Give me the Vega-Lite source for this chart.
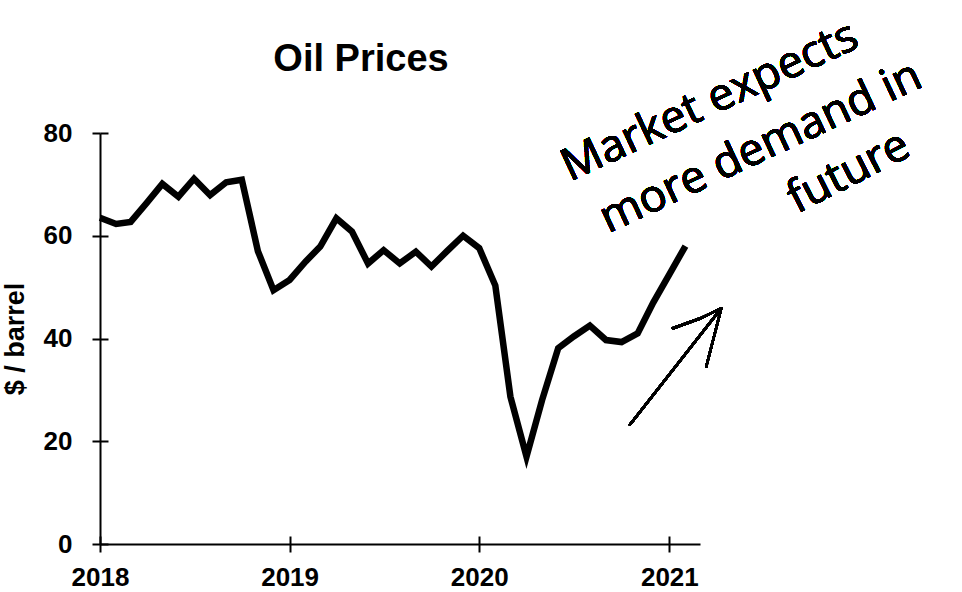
{
  "$schema": "https://vega.github.io/schema/vega-lite/v6.json",
  "autosize": "none",
  "width": 600,
  "height": 411,
  "padding": {"left": 100, "top": 133, "right": 262, "bottom": 48},
  "background": "white",
  "title": {
    "text": "Oil Prices",
    "font": "Liberation Sans",
    "fontSize": 38,
    "fontWeight": "bold",
    "color": "black",
    "anchor": "middle",
    "dx": -39,
    "frame": "group",
    "baseline": "alphabetic",
    "offset": -96
  },
  "config": {
    "view": {"stroke": null},
    "axis": {
      "grid": false,
      "domainColor": "black",
      "domainWidth": 2,
      "tickColor": "black",
      "tickWidth": 2,
      "tickSize": 8,
      "labelFont": "Liberation Sans",
      "labelFontWeight": "bold",
      "labelFontSize": 26,
      "labelColor": "black",
      "labelFlush": false,
      "titleFont": "Liberation Sans",
      "titleFontWeight": "bold",
      "titleFontSize": 27,
      "titleColor": "black"
    }
  },
  "data": {
    "values": [
      {"date": "2018-01-01", "price": 63.5},
      {"date": "2018-02-01", "price": 62.3},
      {"date": "2018-03-01", "price": 62.7},
      {"date": "2018-04-01", "price": 66.4},
      {"date": "2018-05-01", "price": 70.1},
      {"date": "2018-06-01", "price": 67.6},
      {"date": "2018-07-01", "price": 71.1},
      {"date": "2018-08-01", "price": 67.9},
      {"date": "2018-09-01", "price": 70.4},
      {"date": "2018-10-01", "price": 70.9},
      {"date": "2018-11-01", "price": 57.0},
      {"date": "2018-12-01", "price": 49.4},
      {"date": "2019-01-01", "price": 51.4},
      {"date": "2019-02-01", "price": 55.0},
      {"date": "2019-03-01", "price": 57.9},
      {"date": "2019-04-01", "price": 63.4},
      {"date": "2019-05-01", "price": 60.8},
      {"date": "2019-06-01", "price": 54.6},
      {"date": "2019-07-01", "price": 57.2},
      {"date": "2019-08-01", "price": 54.6},
      {"date": "2019-09-01", "price": 56.9},
      {"date": "2019-10-01", "price": 54.0},
      {"date": "2019-11-01", "price": 57.1},
      {"date": "2019-12-01", "price": 60.0},
      {"date": "2020-01-01", "price": 57.6},
      {"date": "2020-02-01", "price": 50.3},
      {"date": "2020-03-01", "price": 28.7},
      {"date": "2020-04-01", "price": 17.0},
      {"date": "2020-05-01", "price": 28.0},
      {"date": "2020-06-01", "price": 38.1},
      {"date": "2020-07-01", "price": 40.4},
      {"date": "2020-08-01", "price": 42.5},
      {"date": "2020-09-01", "price": 39.7},
      {"date": "2020-10-01", "price": 39.3},
      {"date": "2020-11-01", "price": 41.0},
      {"date": "2020-12-01", "price": 47.0},
      {"date": "2021-01-01", "price": 52.5},
      {"date": "2021-02-01", "price": 58.0}
    ]
  },
  "resolve": {"axis": {"x": "independent", "y": "independent"}},
  "layer": [
    {
      "mark": {"type": "line", "color": "black", "strokeWidth": 6.5, "clip": false},
      "encoding": {
        "x": {
          "field": "date",
          "type": "temporal",
          "scale": {
            "type": "utc",
            "domain": [
              {"year": 2018, "month": 1, "date": 1, "utc": true},
              {"year": 2021, "month": 3, "date": 1, "utc": true}
            ]
          },
          "axis": {
            "title": null,
            "orient": "bottom",
            "format": "%Y",
            "labelPadding": 12,
            "values": [
              {"year": 2018, "month": 1, "date": 1, "utc": true},
              {"year": 2019, "month": 1, "date": 1, "utc": true},
              {"year": 2020, "month": 1, "date": 1, "utc": true},
              {"year": 2021, "month": 1, "date": 1, "utc": true}
            ]
          }
        },
        "y": {
          "field": "price",
          "type": "quantitative",
          "scale": {"domain": [0, 80], "nice": false},
          "axis": {
            "title": "$ / barrel",
            "orient": "left",
            "values": [0, 20, 40, 60, 80],
            "labelPadding": 20,
            "titlePadding": 14
          }
        }
      }
    },
    {
      "mark": {"type": "rule", "color": "black", "strokeWidth": 2.3, "strokeCap": "round"},
      "encoding": {
        "x": {
          "datum": {"year": 2020, "month": 10, "date": 17, "utc": true},
          "type": "temporal",
          "axis": {
            "orient": "bottom",
            "title": null,
            "labels": false,
            "domain": false,
            "tickSize": -8,
            "values": [
              {"year": 2018, "month": 1, "date": 1, "utc": true},
              {"year": 2019, "month": 1, "date": 1, "utc": true},
              {"year": 2020, "month": 1, "date": 1, "utc": true},
              {"year": 2021, "month": 1, "date": 1, "utc": true}
            ]
          }
        },
        "x2": {"datum": {"year": 2021, "month": 4, "date": 11, "utc": true}},
        "y": {
          "datum": 23.2,
          "type": "quantitative",
          "axis": {
            "orient": "left",
            "title": null,
            "labels": false,
            "domain": false,
            "tickSize": -8,
            "values": [0, 20, 40, 60, 80]
          }
        },
        "y2": {"datum": 45.9}
      }
    },
    {
      "mark": {"type": "rule", "color": "black", "strokeWidth": 2.5, "strokeCap": "round"},
      "encoding": {
        "x": {"datum": {"year": 2021, "month": 1, "date": 8, "utc": true}, "type": "temporal", "axis": null},
        "x2": {"datum": {"year": 2021, "month": 3, "date": 1, "utc": true}},
        "y": {"datum": 42.0, "type": "quantitative", "axis": null},
        "y2": {"datum": 43.9}
      }
    },
    {
      "mark": {"type": "rule", "color": "black", "strokeWidth": 2.3, "strokeCap": "round"},
      "encoding": {
        "x": {"datum": {"year": 2021, "month": 3, "date": 1, "utc": true}, "type": "temporal", "axis": null},
        "x2": {"datum": {"year": 2021, "month": 4, "date": 11, "utc": true}},
        "y": {"datum": 43.9, "type": "quantitative", "axis": null},
        "y2": {"datum": 45.9}
      }
    },
    {
      "mark": {"type": "rule", "color": "black", "strokeWidth": 2.3, "strokeCap": "round"},
      "encoding": {
        "x": {"datum": {"year": 2021, "month": 3, "date": 13, "utc": true}, "type": "temporal", "axis": null},
        "x2": {"datum": {"year": 2021, "month": 4, "date": 11, "utc": true}},
        "y": {"datum": 34.5, "type": "quantitative", "axis": null},
        "y2": {"datum": 45.9}
      }
    },
    {
      "mark": {"type": "text", "text": "Market expects", "font": "Open Sans", "fontSize": 45, "color": "black", "angle": -25, "align": "center", "baseline": "alphabetic"},
      "encoding": {
        "x": {"datum": {"year": 2021, "month": 3, "date": 31, "utc": true}, "type": "temporal", "axis": null},
        "y": {"datum": 83.7, "type": "quantitative", "axis": null}
      }
    },
    {
      "mark": {"type": "text", "text": "more demand in", "font": "Open Sans", "fontSize": 45, "color": "black", "angle": -25, "align": "center", "baseline": "alphabetic"},
      "encoding": {
        "x": {"datum": {"year": 2021, "month": 7, "date": 7, "utc": true}, "type": "temporal", "axis": null},
        "y": {"datum": 74.8, "type": "quantitative", "axis": null}
      }
    },
    {
      "mark": {"type": "text", "text": "future", "font": "Open Sans", "fontSize": 45, "color": "black", "angle": -27, "align": "center", "baseline": "alphabetic"},
      "encoding": {
        "x": {"datum": {"year": 2021, "month": 12, "date": 24, "utc": true}, "type": "temporal", "axis": null},
        "y": {"datum": 70.0, "type": "quantitative", "axis": null}
      }
    }
  ]
}
